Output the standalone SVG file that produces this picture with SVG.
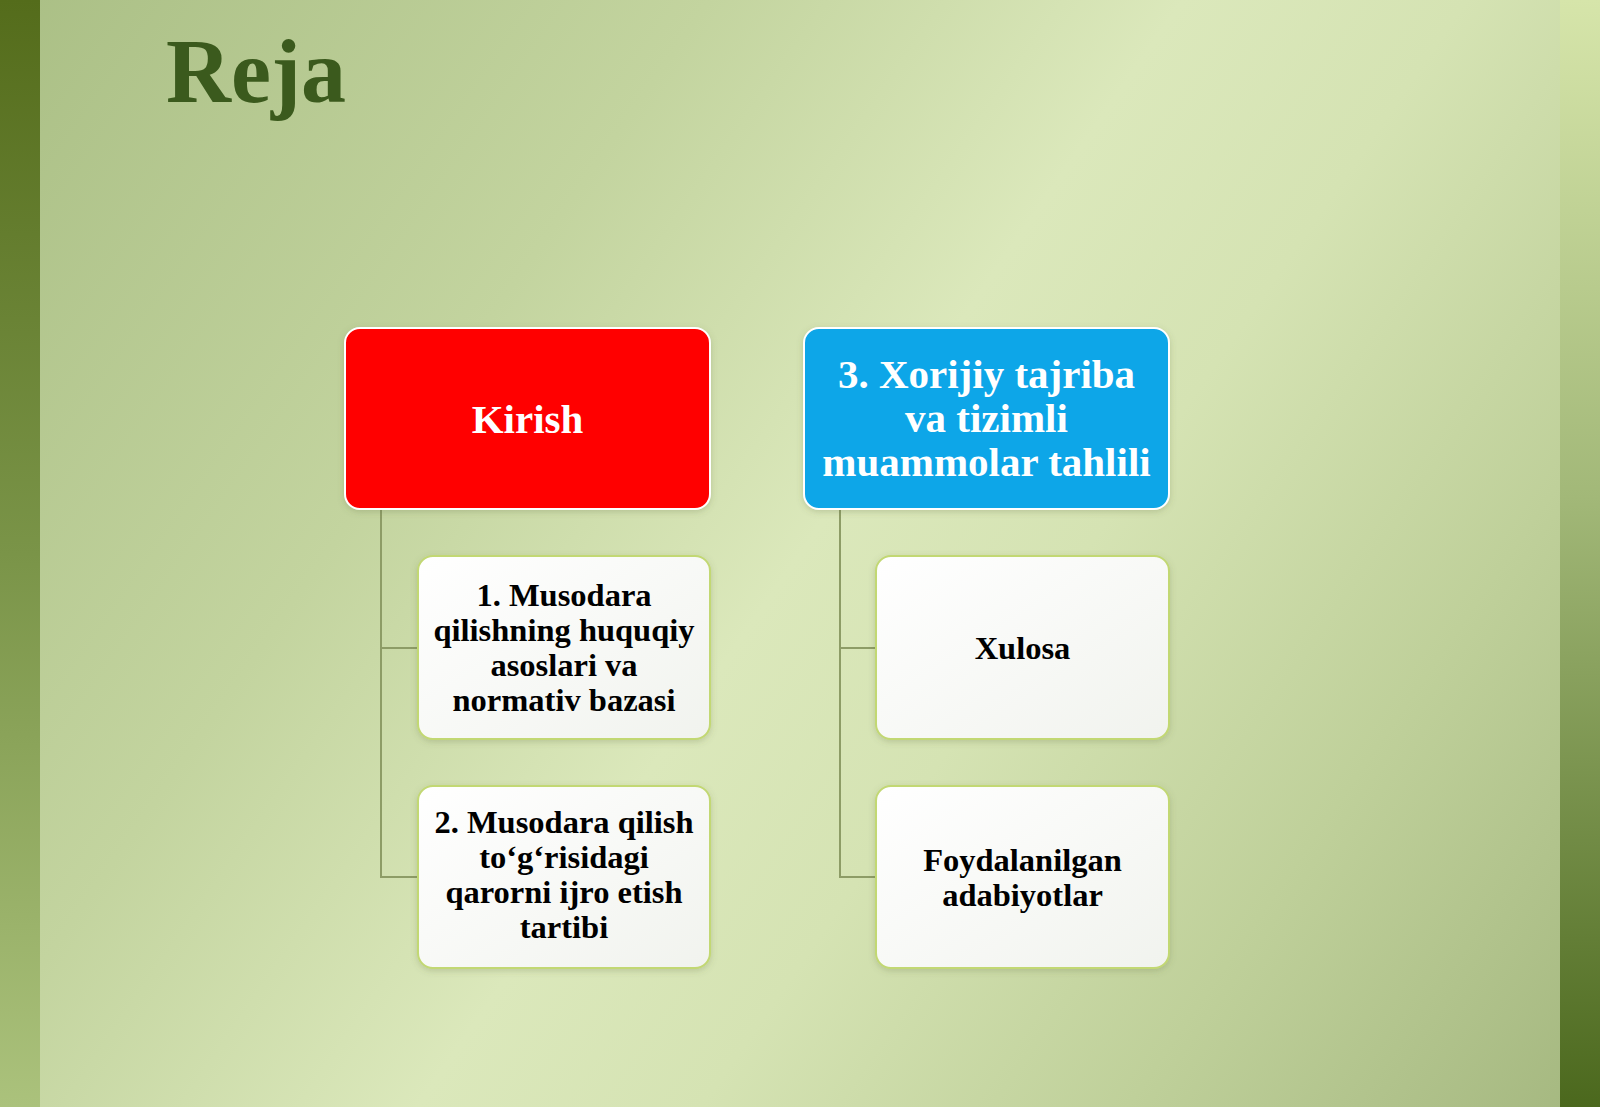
<svg xmlns="http://www.w3.org/2000/svg" width="1600" height="1107" viewBox="0 0 1600 1107">
  <defs>
    <linearGradient id="bg" x1="0" y1="0" x2="1600" y2="1107" gradientUnits="userSpaceOnUse">
      <stop offset="0" stop-color="#aabf85"/>
      <stop offset="0.3" stop-color="#c3d49f"/>
      <stop offset="0.5" stop-color="#dbe8bb"/>
      <stop offset="0.62" stop-color="#d5e3b3"/>
      <stop offset="0.8" stop-color="#bfd09a"/>
      <stop offset="1" stop-color="#a4b77f"/>
    </linearGradient>
    <linearGradient id="leftStrip" x1="0" y1="0" x2="0" y2="1">
      <stop offset="0" stop-color="#546c1b"/>
      <stop offset="0.5" stop-color="#7a9448"/>
      <stop offset="1" stop-color="#abc27c"/>
    </linearGradient>
    <linearGradient id="rightStrip" x1="0" y1="0" x2="0" y2="1">
      <stop offset="0" stop-color="#d6e5aa"/>
      <stop offset="0.45" stop-color="#a2b878"/>
      <stop offset="1" stop-color="#4b681d"/>
    </linearGradient>
    <linearGradient id="childFill" x1="0" y1="0" x2="1" y2="1">
      <stop offset="0" stop-color="#ffffff"/>
      <stop offset="1" stop-color="#f1f3ee"/>
    </linearGradient>
    <filter id="shadow" x="-10%" y="-10%" width="120%" height="125%">
      <feDropShadow dx="0" dy="2" stdDeviation="3" flood-color="#5a6a3a" flood-opacity="0.25"/>
    </filter>
  </defs>
  <style>
    .title { font-family: "Liberation Serif", "Times New Roman", serif; font-weight: bold; font-size: 90px; fill: #3b5a1d; }
    .main { stroke: #ffffff; stroke-width: 2; }
    .child { fill: url(#childFill); stroke: #c2d873; stroke-width: 2; }
    .big { font-family: "Liberation Serif", "Times New Roman", serif; font-weight: bold; font-size: 41px; fill: #ffffff; text-anchor: middle; }
    .small { font-family: "Liberation Serif", "Times New Roman", serif; font-weight: bold; font-size: 32.5px; fill: #000000; text-anchor: middle; }
    .conn { fill: none; stroke: #8d9c66; stroke-width: 2; }
  </style>

  <rect x="0" y="0" width="1600" height="1107" fill="url(#bg)"/>
  <rect x="0" y="0" width="40" height="1107" fill="url(#leftStrip)"/>
  <rect x="1560" y="0" width="40" height="1107" fill="url(#rightStrip)"/>

  <text class="title" x="166" y="102">Reja</text>

  <g id="connectors">
    <path class="conn" d="M381,509 V877 H418 M381,648 H418"/>
    <path class="conn" d="M840,509 V877 H876 M840,648 H876"/>
  </g>

  <g id="node-kirish">
    <rect class="main" x="345" y="328" width="365" height="181" rx="15" fill="#ff0000" filter="url(#shadow)"/>
    <text class="big" x="527.5" y="433">Kirish</text>
  </g>

  <g id="node-xorijiy">
    <rect class="main" x="804" y="328" width="365" height="181" rx="15" fill="#0fa6e8" filter="url(#shadow)"/>
    <text class="big" x="986.5" y="388">3. Xorijiy tajriba</text>
    <text class="big" x="986.5" y="432">va tizimli</text>
    <text class="big" x="986.5" y="476">muammolar tahlili</text>
  </g>

  <g id="node-1">
    <rect class="child" x="418" y="556" width="292" height="183" rx="15" filter="url(#shadow)"/>
    <text class="small" x="564" y="606">1. Musodara</text>
    <text class="small" x="564" y="641">qilishning huquqiy</text>
    <text class="small" x="564" y="676">asoslari va</text>
    <text class="small" x="564" y="711">normativ bazasi</text>
  </g>

  <g id="node-2">
    <rect class="child" x="418" y="786" width="292" height="182" rx="15" filter="url(#shadow)"/>
    <text class="small" x="564" y="833">2. Musodara qilish</text>
    <text class="small" x="564" y="868">to‘g‘risidagi</text>
    <text class="small" x="564" y="903">qarorni ijro etish</text>
    <text class="small" x="564" y="938">tartibi</text>
  </g>

  <g id="node-xulosa">
    <rect class="child" x="876" y="556" width="293" height="183" rx="15" filter="url(#shadow)"/>
    <text class="small" x="1022.5" y="659">Xulosa</text>
  </g>

  <g id="node-adabiyot">
    <rect class="child" x="876" y="786" width="293" height="182" rx="15" filter="url(#shadow)"/>
    <text class="small" x="1022.5" y="871">Foydalanilgan</text>
    <text class="small" x="1022.5" y="906">adabiyotlar</text>
  </g>
</svg>
